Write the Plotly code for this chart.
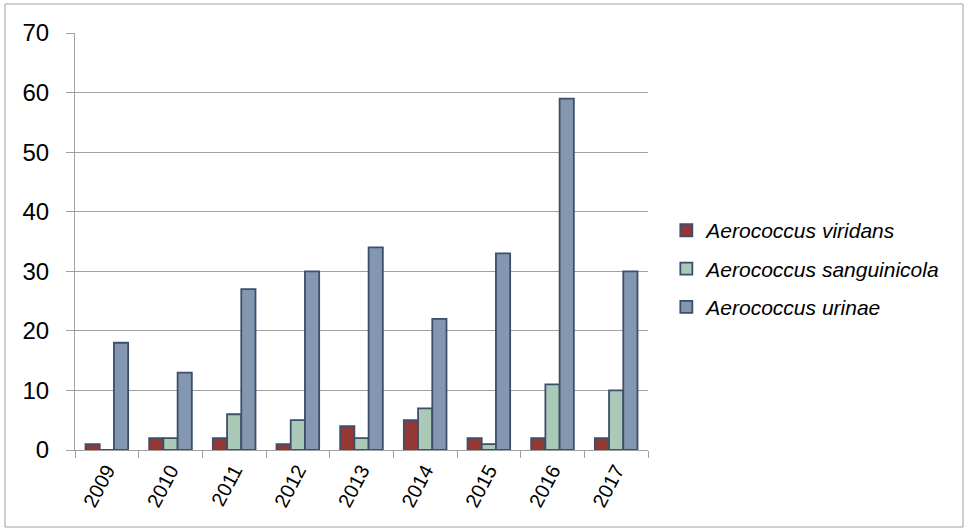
import plotly.graph_objects as go

years = ["2009", "2010", "2011", "2012", "2013", "2014", "2015", "2016", "2017"]
viridans = [1, 2, 2, 1, 4, 5, 2, 2, 2]
sanguinicola = [0, 2, 6, 5, 2, 7, 1, 11, 10]
urinae = [18, 13, 27, 30, 34, 22, 33, 59, 30]

series = [
    ("Aerococcus viridans", viridans, "#953735"),
    ("Aerococcus sanguinicola", sanguinicola, "#aac9b6"),
    ("Aerococcus urinae", urinae, "#8497b0"),
]

fig = go.Figure()
for i, (name, vals, color) in enumerate(series):
    fig.add_trace(go.Bar(
        x=years, y=vals, name=name,
        legendgroup=f"g{i}",
        marker=dict(color=color, line=dict(color="#3d4f6b", width=1.8)),
    ))

fig.update_layout(
    width=965, height=531,
    margin=dict(l=75, r=317, t=33, b=81),
    paper_bgcolor="white", plot_bgcolor="white",
    barmode="group", bargap=0.33, bargroupgap=0,
    font=dict(family="Liberation Sans, Arial, sans-serif", color="black"),
    showlegend=True,
    legend=dict(
        x=1.032, xanchor="left", y=0.435, yanchor="middle",
        font=dict(size=21, style="italic"),
        tracegroupgap=8, itemwidth=30,
    ),
    shapes=[dict(type="rect", xref="paper", yref="paper",
                 x0=-70/573, x1=(573+315)/573, y0=-77/417, y1=(417+29)/417,
                 line=dict(color="#a0a0a0", width=1), fillcolor="rgba(0,0,0,0)")],
)
fig.update_xaxes(
    showline=True, linecolor="#a0a0a0", linewidth=1,
    ticks="outside", tickson="boundaries", ticklen=7, tickcolor="#a0a0a0",
    tickangle=-62, tickfont=dict(size=20), showgrid=False,
)
fig.update_yaxes(
    range=[0, 70], dtick=10,
    showline=True, linecolor="#a0a0a0", linewidth=1,
    ticks="outside", ticklen=8, tickcolor="#a0a0a0",
    showgrid=True, gridcolor="#a0a0a0", gridwidth=1,
    tickfont=dict(size=24), ticklabelstandoff=12, zeroline=False,
)

fig.write_html("out.html")
